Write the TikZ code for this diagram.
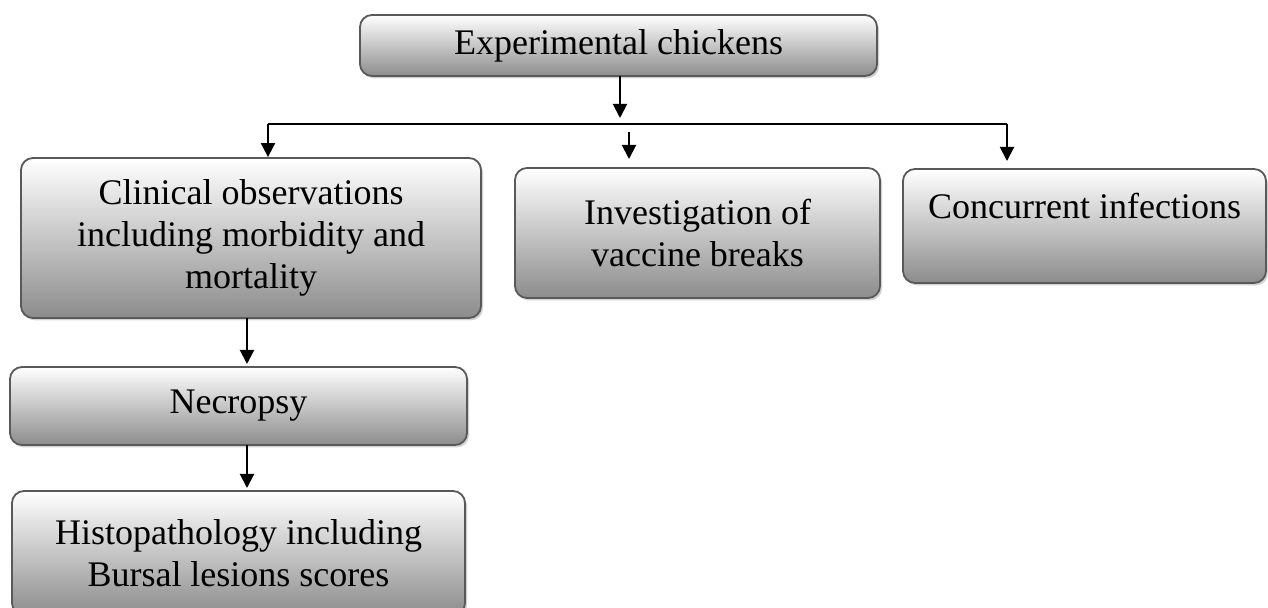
\documentclass[tikz,border=0pt]{standalone}
\usepackage{fontspec}
\setmainfont{Liberation Serif}
\usetikzlibrary{shadows,arrows.meta}
\begin{document}
\begin{tikzpicture}[x=0.5pt,y=-0.5pt,
  box/.style={draw=black!65, line width=0.9pt, rounded corners=6pt,
    top color=white, middle color=black!5, bottom color=black!45,
    drop shadow={opacity=0.35,shadow xshift=1pt,shadow yshift=-1.2pt},
    align=center, inner sep=0pt, font=\fontsize{18}{21}\selectfont},
  arr/.style={line width=1pt, -{Triangle[width=7pt,length=7pt]}},
  ln/.style={line width=1pt}]
\useasboundingbox[fill=white] (0,0) rectangle (1268,608);

\node[box, minimum width=258.5pt, minimum height=30.5pt] (top) at (618.5,45.5) {Experimental chickens};
\node[box, minimum width=230pt, minimum height=80pt] (clin) at (251,238) {Clinical observations\\including morbidity and\\mortality};
\node[box, minimum width=182.5pt, minimum height=65pt] (inv) at (697.5,233) {Investigation of\\vaccine breaks};
\node[box, minimum width=181.5pt, minimum height=57pt] (conc) at (1084.5,226) {\raisebox{3.5pt}[0pt][0pt]{Concurrent infections}};
\node[box, minimum width=228.5pt, minimum height=39pt] (necr) at (238.5,406) {Necropsy};
\node[box, minimum width=226.5pt, minimum height=62pt] (hist) at (238.5,553) {Histopathology including\\Bursal lesions scores};

\coordinate (tp) at (620,76);
\coordinate (tt) at (620,118);
\coordinate (bl) at (268,124);
\coordinate (br) at (1007,124);
\coordinate (bm) at (629,132);
\coordinate (bmt) at (629,159);
\coordinate (brt) at (1007,161);
\coordinate (cb) at (247,318);
\coordinate (ct) at (247,364);
\coordinate (nb) at (247,445);
\coordinate (nt) at (247,488);

\draw[arr] (tp) -- (tt);
\draw[ln] (bl) -- (br);
\draw[arr] (bl) -- (bl |- clin.north);
\draw[arr] (bm) -- (bmt);
\draw[arr] (br) -- (brt);
\draw[arr] (cb) -- (ct);
\draw[arr] (nb) -- (nt);
\end{tikzpicture}
\end{document}
